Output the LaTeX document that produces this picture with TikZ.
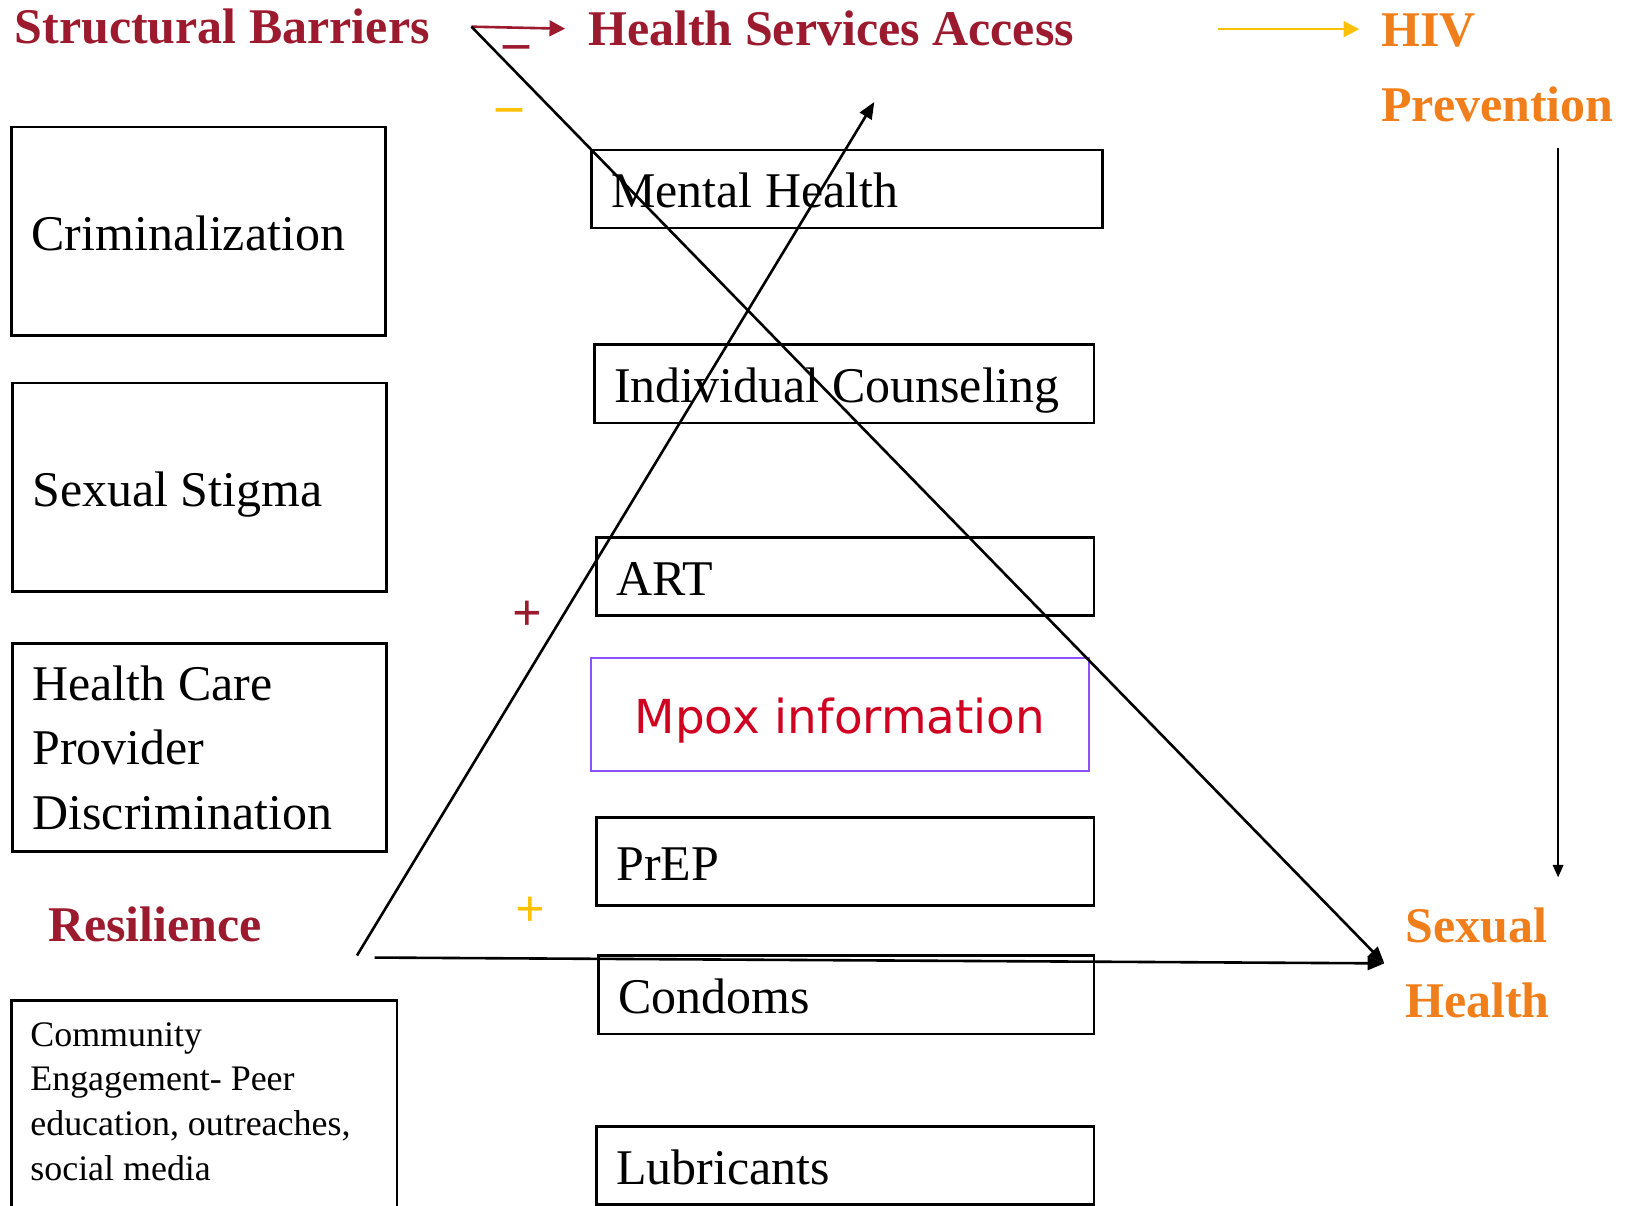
\documentclass[tikz,border=0pt]{standalone}
\usepackage{fontspec}
\setmainfont{Liberation Serif}
\newfontfamily\mpoxfont{DejaVu Sans}
\usetikzlibrary{arrows.meta}
\definecolor{barred}{HTML}{9C1A2E}
\definecolor{hivorange}{HTML}{F07F1B}
\definecolor{signyellow}{HTML}{FFC000}
\definecolor{boxpurple}{HTML}{8C52FF}
\definecolor{mpoxred}{HTML}{D00020}
\newcommand{\bigtext}{\fontsize{48}{62}\selectfont}
\newcommand{\smalltext}{\fontsize{34.5}{43}\selectfont}
\tikzset{
	head/.style={font=\bigtext\bfseries, text=barred, inner sep=0pt, anchor=base west},
	outcome/.style={font=\fontsize{48}{72}\selectfont\bfseries, text=hivorange, inner sep=0pt, anchor=base west, align=flush left},
	barrier/.style={draw, line width=2.4pt, anchor=north west, inner xsep=19pt, text width=321pt, minimum height=200pt, align=flush left, font=\bigtext},
	oneline/.style={text height=36pt, text depth=0pt},
	service/.style={draw, line width=2.4pt, anchor=north west, inner xsep=19pt, text width=440pt, minimum height=75pt, align=flush left, font=\bigtext, oneline},
	sign/.style={font=\fontsize{50}{60}\selectfont\bfseries, inner sep=0pt},
	link/.style={line width=2.5pt, -{Triangle[length=16pt, width=13pt]}}
}
\begin{document}
\begin{tikzpicture}[x=1pt, y=-1pt]
			\useasboundingbox (0,0) rectangle (1568,1158);
			\node[head] (barriers) at (14,42) {Structural Barriers};
			\node[head] (access) at (565,44) {Health Services Access};
			\node[outcome] (hiv) at (1327,117) {HIV\\Prevention};
			\node[outcome] (sexual) at (1350,978) {Sexual\\Health};
			\node[head] (resilience) at (46,905) {Resilience};
			\node[barrier, oneline] (crim) at (10,121) {Criminalization};
			\node[barrier, oneline] (stigma) at (11,367) {Sexual Stigma};
			\node[barrier] (provider) at (11,617) {Health Care\\Provider\\Discrimination};
			\node[draw, line width=2.4pt, anchor=north west, inner xsep=18pt, inner ysep=21pt] (community) at (10,960) {\parbox[t][230pt][t]{334pt}{\raggedright\smalltext Community\\Engagement- Peer\\education, outreaches,\\social media}};
			\node[service, text width=453pt] (mental) at (567,143) {Mental Health};
			\node[service, text width=442pt] (counsel) at (570,330) {Individual Counseling};
			\node[service] (art) at (572,515) {ART};
			\node[draw=boxpurple, line width=2pt, anchor=north west, minimum width=478pt, minimum height=109pt, text height=37pt, text depth=0pt, text=mpoxred, font=\mpoxfont\fontsize{45}{54}\selectfont] (mpox) at (567,631) {Mpox information};
			\node[service, minimum height=85pt] (prep) at (572,784) {PrEP};
			\node[service, text width=438pt] (condoms) at (574,917) {Condoms};
			\node[service] (lube) at (572,1081) {Lubricants};
			\node[sign, text=barred] (minusa) at (496,50) {--};
			\node[sign, text=signyellow] (minusb) at (490,111) {--};
			\node[sign, text=barred] (plusa) at (507,592) {+};
			\node[sign, text=signyellow] (plusb) at (510,876) {+};
			\coordinate (sbout) at ([xshift=40pt]barriers.east);
			\coordinate (shin) at ([xshift=-20pt]sexual.west);
			\coordinate (resup) at (343,918);
			\coordinate (resright) at (360,920);
			\coordinate (accin) at (840,98);
			\coordinate (accout) at (1170,28);
			\coordinate (hivin) at (1306,28);
			\coordinate (hivout) at (1497,142);
			\coordinate (sexin) at (1497,843);
			\draw[link, barred, -{Triangle[length=15pt, width=15pt]}] (sbout) -- ([xshift=-22pt]access.west);
			\draw[link] (sbout) -- (shin);
			\draw[link] (resup) -- (accin);
			\draw[link] (resright) -- (shin);
			\draw[link, signyellow, -{Triangle[length=15pt, width=15pt]}] (accout) -- (hivin);
			\draw[line width=2pt, -{Triangle[length=12pt, width=10pt]}] (hivout) -- (sexin);
\end{tikzpicture}
\end{document}
